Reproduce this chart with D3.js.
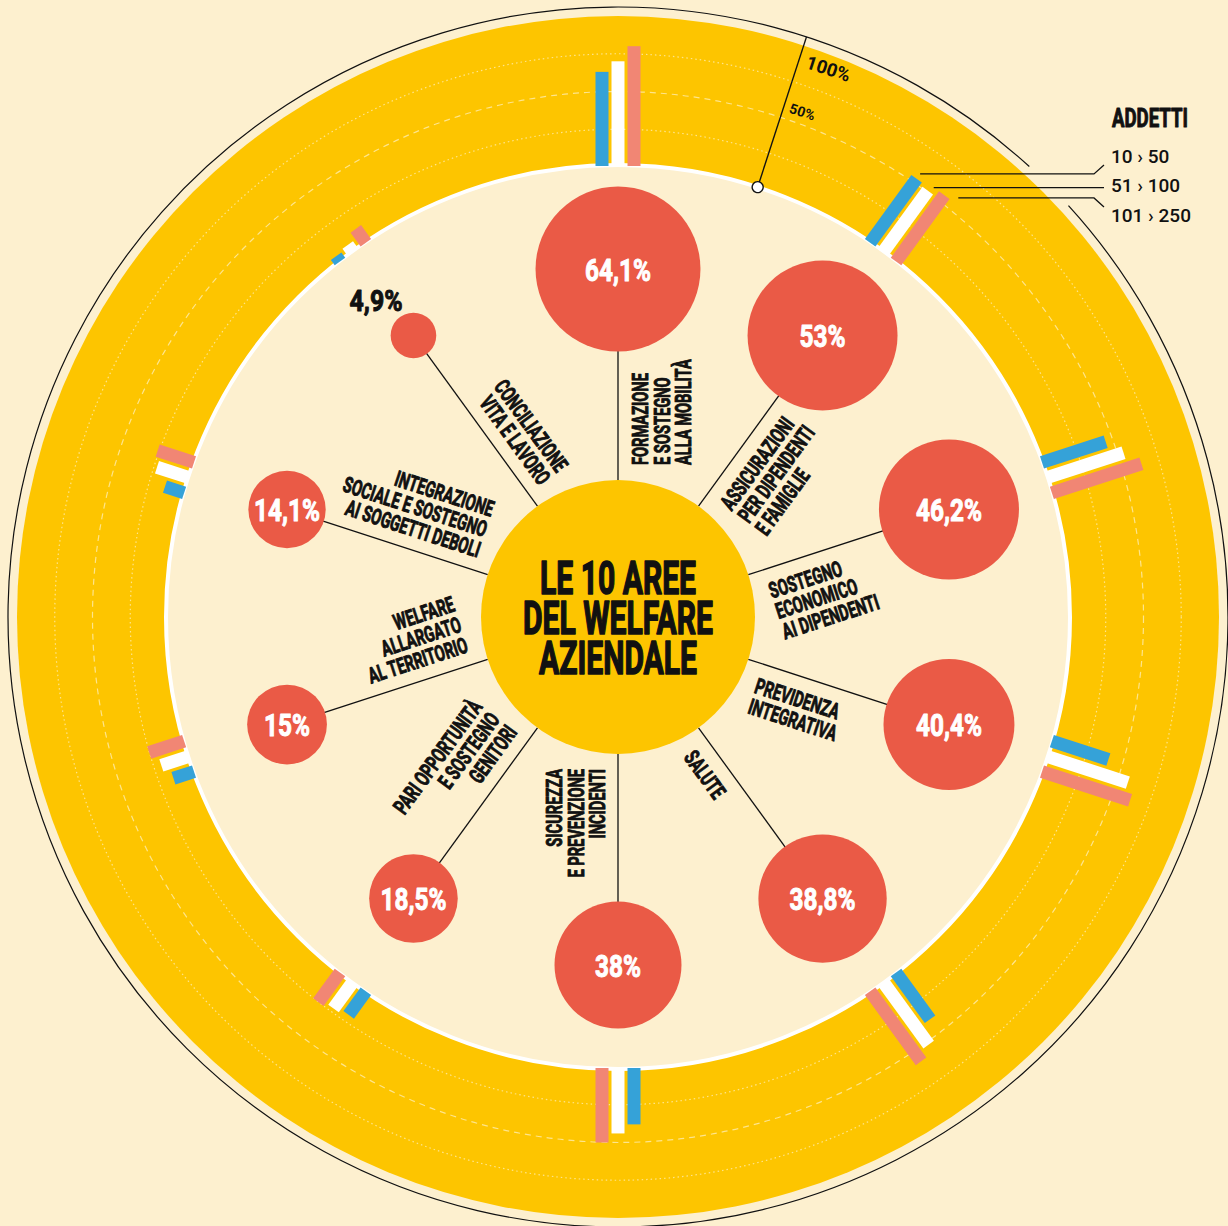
<!DOCTYPE html>
<html lang="it">
<head>
<meta charset="utf-8">
<script src="https://cdn.jsdelivr.net/npm/d3@7"></script>
<style>
  html, body { margin: 0; padding: 0; background: #fdf0cf; }
  svg { display: block; }
</style>
</head>
<body>
<div id="chart"></div>
<script>
// aree del welfare, in senso orario partendo dall'alto
const aree = [
    "Formazione", "Assicurazioni", "Sostegno economico", "Previdenza", "Salute",
    "Sicurezza", "Pari opportunità", "Welfare allargato", "Integrazione sociale", "Conciliazione"
];
const etichette = [
    ["FORMAZIONE", "E SOSTEGNO", "ALLA MOBILITÀ"],
    ["ASSICURAZIONI", "PER DIPENDENTI", "E FAMIGLIE"],
    ["SOSTEGNO", "ECONOMICO", "AI DIPENDENTI"],
    ["PREVIDENZA", "INTEGRATIVA"],
    ["SALUTE"],
    ["SICUREZZA", "E PREVENZIONE", "INCIDENTI"],
    ["PARI OPPORTUNITÀ", "E SOSTEGNO", "GENITORI"],
    ["WELFARE", "ALLARGATO", "AL TERRITORIO"],
    ["INTEGRAZIONE", "SOCIALE E SOSTEGNO", "AI SOGGETTI DEBOLI"],
    ["CONCILIAZIONE", "VITA E LAVORO"]
];
const quota = [64.1, 53, 46.2, 40.4, 38.8, 38, 18.5, 15, 14.1, 4.9];

// quota per classe di addetti (%)
const classi = ["10 › 50", "51 › 100", "101 › 250"];
const addetti_10_50   = [63, 53, 45, 40, 39, 38, 20, 15, 14, 5];
const addetti_51_100  = [70, 51, 54, 57, 52, 44, 22.5, 20, 23, 6.5];
const addetti_101_250 = [80, 55, 63, 62, 58, 50, 25, 25, 26, 12];

const griglia = [25, 50, 75];
const tickValori = [50, 100];
const tickEtichette = ["50%", "100%"];
const titolo = ["LE 10 AREE", "DEL WELFARE", "AZIENDALE"];
const legendaTitolo = "ADDETTI";

(() => {
    const width = 1228, height = 1226, cx = 618, cy = 617;
    const bg = "#fdf0cf", yellow = "#fdc500", red = "#ea5a46";
    const coloriClassi = ["#35a2d8", "#ffffff", "#f18674"];
    const serie = [addetti_10_50, addetti_51_100, addetti_101_250];
    const narrow = "'Liberation Sans Narrow', 'Arial Narrow', Roboto, sans-serif";
    const plain = "Roboto, 'Liberation Sans', sans-serif";

    const angle = d3.scaleBand().domain(aree).range([0, 360]);
    const rBar = d3.scaleLinear().domain([0, 100]).range([450, 601]);
    const rBubble = d3.scaleSqrt().domain([0, 100]).range([0, 103]);
    const offset = d3.scaleBand().domain(classi).range([-22.5, 22.5]).paddingInner(0.1875);
    const rInner = 452, rCenter = 137, rDist = 348, rBlack = 610;

    const rad = d => d * Math.PI / 180;
    const polar = (deg, r, side = 0) => [
        r * Math.sin(rad(deg)) + side * Math.cos(rad(deg)),
        -r * Math.cos(rad(deg)) + side * Math.sin(rad(deg))
    ];
    const fmt = v => String(v).replace(".", ",") + "%";

    const svg = d3.select("#chart").append("svg")
        .attr("width", width)
        .attr("height", height);

    svg.append("rect").attr("width", width).attr("height", height).attr("fill", bg);

    // fattore di compressione orizzontale per il carattere condensato
    const squeeze = (txt, size, target) => {
        const t = svg.append("text").attr("font-family", narrow).attr("font-weight", 700)
            .attr("font-size", size).text(txt);
        const w = t.node().getComputedTextLength();
        t.remove();
        return target / w;
    };
    const sxLab = squeeze("FORMAZIONE", 22, 92);
    const sxTit = squeeze("DEL WELFARE", 47, 190);
    const sxPct = squeeze("46,2%", 32, 66);
    const sxSmall = squeeze("4,9%", 29, 53);
    const sxAdd = squeeze(legendaTitolo, 26, 76);

    // testo condensato "ingrassato" con un leggero contorno
    const heavy = (sel, w) => sel
        .attr("font-family", narrow)
        .attr("font-weight", 700)
        .attr("stroke-width", w)
        .attr("stroke-linejoin", "round")
        .attr("paint-order", "stroke");

    const root = svg.append("g").attr("transform", `translate(${cx},${cy})`);

    // anello giallo + griglia
    root.append("circle").attr("r", rBar(100)).attr("fill", yellow);
    root.selectAll(".grid")
        .data(griglia)
        .enter()
        .append("circle")
        .attr("class", "grid")
        .attr("r", d => rBar(d))
        .attr("fill", "none")
        .attr("stroke", "#fff")
        .attr("stroke-opacity", 0.55)
        .attr("stroke-width", 1.2)
        .attr("stroke-dasharray", d => d === 50 ? "6,5" : "1.5,3");

    root.append("circle").attr("r", rInner).attr("fill", bg)
        .attr("stroke", "#fff").attr("stroke-width", 4);

    // barre per classe di addetti
    aree.forEach((a, i) => {
        const g = root.append("g").attr("transform", `rotate(${angle(a)})`);
        g.selectAll("rect")
            .data(classi)
            .enter()
            .append("rect")
            .attr("x", c => offset(c))
            .attr("width", offset.bandwidth())
            .attr("y", (c, j) => -rBar(serie[j][i]))
            .attr("height", (c, j) => rBar(serie[j][i]) - rInner + 1)
            .attr("fill", (c, j) => coloriClassi[j]);
    });

    // cerchio esterno con interruzione per la legenda
    const gap0 = 45 - 2.6, gap1 = 45 + 2.6;
    const p = d3.path();
    const a0 = rad(gap1 - 90), a1 = rad(gap0 - 90 + 360);
    p.moveTo(rBlack * Math.cos(a0), rBlack * Math.sin(a0));
    p.arc(0, 0, rBlack, a0, a1);
    root.append("path").attr("d", p.toString()).attr("fill", "none")
        .attr("stroke", "#111").attr("stroke-width", 1.2);

    // scala 50% / 100%
    const tAng = angle(aree[0]) + angle.bandwidth() / 2;
    const tick = root.append("g").attr("transform", `rotate(${tAng})`);
    tick.append("line").attr("y1", -rInner).attr("y2", -rBlack)
        .attr("stroke", "#111").attr("stroke-width", 1.4);
    tick.append("circle").attr("cy", -rInner).attr("r", 5.5)
        .attr("fill", "#fff").attr("stroke", "#111").attr("stroke-width", 1.4);
    tick.selectAll(".tl")
        .data(tickValori)
        .enter()
        .append("text")
        .attr("class", "tl")
        .attr("x", (d, i) => i ? 8 : 6)
        .attr("y", (d, i) => -(i ? rBar(d) - 21 : rBar(d) + 7))
        .attr("font-family", plain)
        .attr("font-weight", 700)
        .attr("font-size", (d, i) => i ? 18.5 : 14)
        .attr("fill", "#111")
        .text((d, i) => tickEtichette[i]);

    // raggi
    aree.forEach(a => {
        const [x1, y1] = polar(angle(a), rCenter);
        const [x2, y2] = polar(angle(a), rDist);
        root.append("line").attr("x1", x1).attr("y1", y1).attr("x2", x2).attr("y2", y2)
            .attr("stroke", "#111").attr("stroke-width", 1.3);
    });

    // etichette dei raggi
    aree.forEach((a, i) => {
        const th = angle(a), right = th < 180, lines = etichette[i];
        const g = root.append("g").attr("transform", `rotate(${right ? th - 90 : th + 90})`);
        lines.forEach((s, j) => {
            const y = right ? 30 + j * 21.5 : -13 - (lines.length - 1 - j) * 21.5;
            g.append("text")
                .attr("transform", `translate(${right ? 152 : -152},${y}) scale(${sxLab},1)`)
                .attr("text-anchor", right ? "start" : "end")
                .attr("font-size", 22)
                .attr("fill", "#111")
                .attr("stroke", "#111")
                .call(heavy, 0.9)
                .text(s);
        });
    });

    // cerchio centrale con titolo (un solo testo su tre righe)
    root.append("circle").attr("r", rCenter).attr("fill", yellow);
    root.append("text")
        .attr("transform", `translate(0,-23) scale(${sxTit},1)`)
        .attr("text-anchor", "middle")
        .attr("font-size", 47)
        .attr("fill", "#111")
        .attr("stroke", "#111")
        .call(heavy, 1.6)
        .selectAll("tspan")
        .data(titolo)
        .enter()
        .append("tspan")
        .attr("x", 0)
        .attr("dy", (d, i) => i ? 40 : 0)
        .text(d => d);

    // bolle
    aree.forEach((a, i) => {
        const [x, y] = polar(angle(a), rDist);
        const r = rBubble(quota[i]);
        root.append("circle").attr("cx", x).attr("cy", y).attr("r", r).attr("fill", red);
        const inside = r > 30;
        const col = inside ? "#fff" : "#111";
        root.append("text")
            .attr("transform", inside
                ? `translate(${x},${y + 11.5}) scale(${sxPct},1)`
                : `translate(${x - r * 0.48},${y - r - 1.5}) scale(${sxSmall},1)`)
            .attr("text-anchor", inside ? "middle" : "end")
            .attr("font-size", inside ? 32 : 29)
            .attr("fill", col)
            .attr("stroke", col)
            .call(heavy, 1)
            .text(fmt(quota[i]));
    });

    // legenda
    const leg = svg.append("g");
    leg.append("text")
        .attr("transform", `translate(1112,127) scale(${sxAdd},1)`)
        .attr("font-size", 26)
        .attr("fill", "#111")
        .attr("stroke", "#111")
        .call(heavy, 1)
        .text(legendaTitolo);

    const legY = [163, 192, 222];
    const legEnd = [165, 187, 207];
    const legAttach = [0, 3, 13];
    const aLeg = angle(aree[1]);
    classi.forEach((c, j) => {
        leg.append("text")
            .attr("x", 1111)
            .attr("y", legY[j])
            .attr("font-family", plain)
            .attr("font-weight", 500)
            .attr("font-size", 19)
            .attr("fill", "#111")
            .text(c);
        const [tx, ty] = polar(aLeg, rBar(serie[j][1]) + 6,
            offset(c) + offset.bandwidth() / 2 + legAttach[j]);
        const sx = cx + tx, sy = cy + ty;
        const bend = j === 1 ? 1104 : 1094;
        leg.append("path")
            .attr("d", `M${sx},${sy}H${bend}L1104,${j === 1 ? sy : legEnd[j]}`)
            .attr("fill", "none")
            .attr("stroke", "#111")
            .attr("stroke-width", 1.3);
    });
})();
</script>
</body>
</html>
